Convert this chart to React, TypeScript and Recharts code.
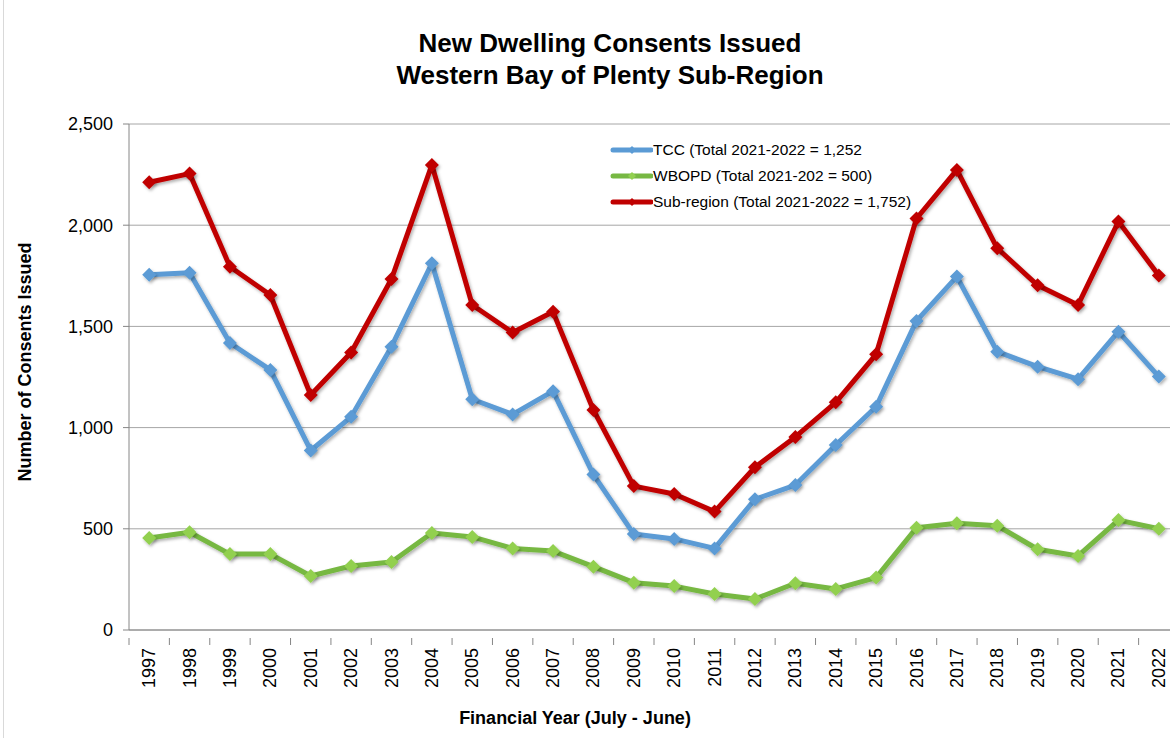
import { LineChart, Line, XAxis, YAxis, CartesianGrid } from "recharts"

const years = [
  "1997", "1998", "1999", "2000", "2001", "2002", "2003", "2004", "2005", "2006", "2007", "2008", "2009",
  "2010", "2011", "2012", "2013", "2014", "2015", "2016", "2017", "2018", "2019", "2020", "2021", "2022",
]
const tcc = [
  1755, 1765, 1418, 1285, 887, 1053, 1400, 1812, 1140, 1065, 1180, 768, 474,
  450, 403, 646, 716, 914, 1103, 1527, 1746, 1375, 1301, 1239, 1474, 1252,
]
const wbopd = [
  455, 483, 375, 375, 267, 316, 336, 479, 460, 403, 390, 313, 234,
  217, 178, 153, 231, 203, 259, 505, 527, 515, 399, 366, 543, 500,
]
const subRegion = [
  2212, 2255, 1795, 1655, 1161, 1371, 1734, 2298, 1606, 1470, 1572, 1087, 711,
  672, 585, 804, 954, 1125, 1362, 2033, 2273, 1886, 1703, 1606, 2018, 1752,
]
const yTicks = [0, 500, 1000, 1500, 2000, 2500]

const series = [
  { key: "tcc", name: "TCC (Total 2021-2022 = 1,252", color: "#5B9BD5", dot: "#5B9BD5" },
  { key: "wbopd", name: "WBOPD (Total 2021-202 = 500)", color: "#77B843", dot: "#92D050" },
  { key: "sub", name: "Sub-region (Total 2021-2022 = 1,752)", color: "#C00000", dot: "#C00000" },
]

const data = years.map((y, i) => ({ year: y, tcc: tcc[i], wbopd: wbopd[i], sub: subRegion[i] }))

const FONT = "Arial, 'Liberation Sans', sans-serif"
const PLOT_W = 1050
const BAND = PLOT_W / years.length

const diamond = (fill: string) => (props: any) => {
  const { cx, cy, index } = props
  if (cx == null || cy == null) return <g key={index} />
  const r = 7
  return (
    <polygon
      key={index}
      points={`${cx},${cy - r} ${cx + r},${cy} ${cx},${cy + r} ${cx - r},${cy}`}
      fill={fill}
      filter="url(#shadow)"
    />
  )
}

const YearTick = (props: any) => {
  const { x, y, payload } = props
  return (
    <g>
      <line x1={x - BAND / 2} y1={y} x2={x - BAND / 2} y2={y + 7} stroke="#868686" />
      <text
        x={x}
        y={y + 10}
        transform={`rotate(-90 ${x} ${y + 10})`}
        textAnchor="end"
        dy={6}
        fontSize={18}
        fontFamily={FONT}
        fill="#000"
      >
        {payload.value}
      </text>
    </g>
  )
}

const LegendBox = () => (
  <div style={{ position: "absolute", left: 610, top: 137, fontFamily: FONT, fontSize: 15.5, color: "#000" }}>
    {series.map((s) => (
      <div key={s.key} style={{ display: "flex", alignItems: "center", height: 26, whiteSpace: "nowrap" }}>
        <svg width={43} height={10}>
          <line x1={3} y1={5} x2={41} y2={5} stroke={s.color} strokeWidth={5} strokeLinecap="round" />
          <polygon points="22,1 26,5 22,9 18,5" fill={s.dot} />
        </svg>
        <span>{s.name}</span>
      </div>
    ))}
  </div>
)

export default function App() {
  return (
    <div style={{ position: "absolute", left: 0, top: 0, width: 1170, height: 738, overflow: "hidden", background: "#fff" }}>
      <div style={{ position: "absolute", left: 3, top: -1, width: 1200, height: 740, border: "1px solid #d9d9d9" }} />
      <div
        style={{
          position: "absolute",
          left: 0,
          top: 27,
          width: 1220,
          textAlign: "center",
          fontFamily: FONT,
          fontWeight: "bold",
          fontSize: 26,
          lineHeight: "32px",
        }}
      >
        New Dwelling Consents Issued
        <br />
        Western Bay of Plenty Sub-Region
      </div>
      <div
        style={{
          position: "absolute",
          left: 25,
          top: 362,
          transform: "translate(-50%, -50%) rotate(-90deg)",
          whiteSpace: "nowrap",
          fontFamily: FONT,
          fontWeight: "bold",
          fontSize: 18,
        }}
      >
        Number of Consents Issued
      </div>
      <div
        style={{
          position: "absolute",
          left: 575,
          top: 718,
          transform: "translate(-50%, -50%)",
          whiteSpace: "nowrap",
          fontFamily: FONT,
          fontWeight: "bold",
          fontSize: 18,
        }}
      >
        Financial Year (July - June)
      </div>
      <div style={{ position: "absolute", left: 0, top: 0 }}>
        <LineChart width={1180} height={738} data={data} margin={{ top: 124, right: 1, bottom: 0, left: 29 }}>
          <defs>
            <filter id="shadow" x="-50%" y="-50%" width="200%" height="200%">
              <feDropShadow dx={1.5} dy={2} stdDeviation={1.5} floodColor="#000" floodOpacity={0.3} />
            </filter>
          </defs>
          <CartesianGrid vertical={false} stroke="#a6a6a6" />
          <XAxis
            dataKey="year"
            scale="band"
            height={108}
            interval={0}
            tickLine={false}
            stroke="#868686"
            tick={<YearTick />}
          />
          <YAxis
            width={100}
            domain={[0, 2500]}
            ticks={yTicks}
            interval={0}
            stroke="#868686"
            tickSize={6}
            tickMargin={10}
            tick={{ fontSize: 18, fontFamily: FONT, fill: "#000" }}
            tickFormatter={(v: number) => v.toLocaleString("en-US")}
          />
          {series.map((s) => (
            <Line
              key={s.key}
              dataKey={s.key}
              name={s.name}
              stroke={s.color}
              strokeWidth={5}
              strokeLinejoin="round"
              filter="url(#shadow)"
              dot={diamond(s.dot)}
              activeDot={false}
              isAnimationActive={false}
            />
          ))}
        </LineChart>
      </div>
      <LegendBox />
    </div>
  )
}
